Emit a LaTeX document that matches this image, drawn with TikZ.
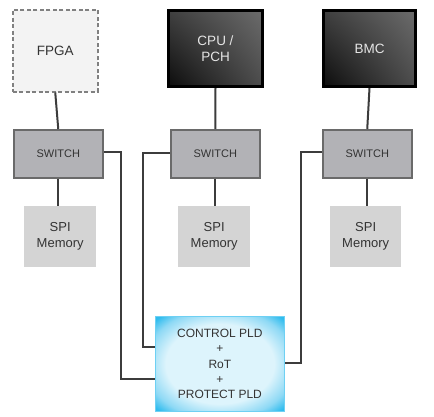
\documentclass[tikz,border=0pt]{standalone}
\usepackage{fontspec}
\setmainfont{Liberation Sans}
\usetikzlibrary{shadings}
\definecolor{lineg}{HTML}{3C3C3C}
\definecolor{swfill}{HTML}{B2B2B6}
\definecolor{swdraw}{HTML}{6A6A6A}
\definecolor{spifill}{HTML}{D4D4D4}
\definecolor{fpgafill}{HTML}{F3F3F3}
\definecolor{fpgadraw}{HTML}{808080}
\definecolor{cyanout}{HTML}{30BCEE}
\definecolor{cyanmid}{HTML}{8ED9F5}
\definecolor{cyanin}{HTML}{DDF4FC}
\definecolor{txt}{HTML}{333333}
\pgfdeclareradialshading{pldglow}{\pgfpoint{0bp}{0bp}}{color(0bp)=(cyanin); color(21bp)=(cyanin); color(29bp)=(cyanmid); color(34bp)=(cyanout); color(50bp)=(cyanout)}
\begin{document}
\begin{tikzpicture}[x=1pt,y=-1pt,
  box/.style={inner sep=0pt,anchor=north west,font=\fontsize{13.5}{16}\selectfont,text=txt,align=center},
  fpgabox/.style={box,fill=fpgafill,draw=fpgadraw,line width=1.5pt,dash pattern=on 4pt off 2.5pt},
  darkbox/.style={box,draw=black,line width=3pt,shading=bilinear interpolation,lower left=black!95,upper left=black!75,lower right=black!70,upper right=black!58,text=black!10},
  swbox/.style={box,fill=swfill,draw=swdraw,line width=1.5pt,font=\fontsize{11}{13}\selectfont},
  spibox/.style={box,fill=spifill,font=\fontsize{13}{16}\selectfont},
  conn/.style={draw=lineg,line width=2pt}]
\useasboundingbox (0,0) rectangle (434,416);
\node[fpgabox,minimum width=85pt,minimum height=82pt] (fpga) at (12,9) {FPGA};
\node[darkbox,minimum width=94pt,minimum height=76pt] (cpu) at (167,9) {CPU /\\PCH};
\node[darkbox,minimum width=92pt,minimum height=76pt] (bmc) at (322,9) {BMC};
\node[swbox,minimum width=89pt,minimum height=48pt] (sw1) at (13,129) {SWITCH};
\node[swbox,minimum width=89pt,minimum height=48pt] (sw2) at (170,129) {SWITCH};
\node[swbox,minimum width=89pt,minimum height=48pt] (sw3) at (322,129) {SWITCH};
\node[spibox,minimum width=72pt,minimum height=61pt] (spi1) at (24,206) {SPI\\Memory};
\node[spibox,minimum width=72pt,minimum height=61pt] (spi2) at (178,206) {SPI\\Memory};
\node[spibox,minimum width=71pt,minimum height=61pt] (spi3) at (330,206) {SPI\\Memory};
\node[box,minimum width=129pt,minimum height=95pt,draw=cyanout!70,line width=0.8pt,shading=pldglow,font=\fontsize{12}{15.3}\selectfont] (pld) at (155,316) {CONTROL PLD\\+\\RoT\\+\\PROTECT PLD};
\draw[conn] (fpga.south) -- (sw1.north);
\draw[conn] (cpu.south) -- (sw2.north);
\draw[conn] (bmc.south) -- (sw3.north);
\draw[conn] (sw1.south) -- (spi1.north -| sw1.south);
\draw[conn] (sw2.south) -- (spi2.north -| sw2.south);
\draw[conn] (sw3.south) -- (spi3.north -| sw3.south);
\coordinate (c1) at (121,152);
\coordinate (c2) at (143,153);
\coordinate (c3) at (301,152);
\draw[conn] (sw1.east |- c1) -- (c1) -- (121,379) -- (pld.west |- 0,379);
\draw[conn] (sw2.west |- c2) -- (c2) -- (143,347) -- (pld.west |- 0,347);
\draw[conn] (sw3.west |- c3) -- (c3) -- (301,363) -- (pld.east |- 0,363);
\end{tikzpicture}
\end{document}
